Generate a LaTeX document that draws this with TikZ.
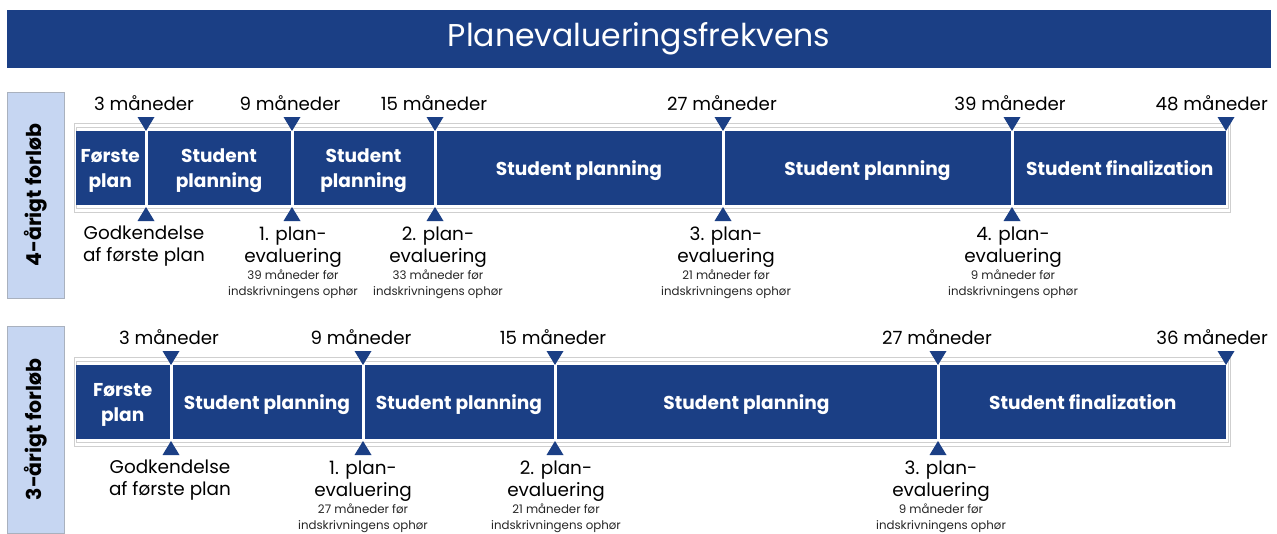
\documentclass[tikz,border=0pt]{standalone}
\usepackage{fontspec}
\setmainfont{Poppins}
\definecolor{navy}{HTML}{1B3F85}
\definecolor{sideblue}{HTML}{C6D6F2}
\definecolor{sideedge}{HTML}{A9B1BE}
\definecolor{framegray}{HTML}{CFCFCF}
\newcommand\downtri[2]{\fill[navy] (#1,#2) -- ++(-8.5,-14) -- ++(17,0) -- cycle;}
\newcommand\uptri[2]{\fill[navy] (#1,#2) -- ++(-8.5,14) -- ++(17,0) -- cycle;}
\begin{document}
\begin{tikzpicture}[x=1pt,y=-1pt,
  titlebar/.style={fill=navy,text=white,minimum width=1264pt,minimum height=57.5pt,
    inner sep=0pt,font=\fontsize{31.5}{36}\selectfont},
  sidebox/.style={fill=sideblue,draw=sideedge,line width=0.8pt,minimum width=57.5pt,
    inner sep=0pt,font=\bfseries\fontsize{20.5}{24}\selectfont},
  seg/.style={fill=navy,text=white,align=center,inner sep=0pt,minimum height=74pt,
    text depth=-1.5pt,font=\bfseries\fontsize{18.6}{25}\selectfont},
  month/.style={inner sep=0pt,font=\fontsize{18.2}{22}\selectfont},
  evtext/.style={inner sep=0pt,align=center,font=\fontsize{18.4}{22}\selectfont},
  evnote/.style={inner sep=0pt,align=center,text=black!85,font=\fontsize{11.8}{15.5}\selectfont},
  frameline/.style={draw=framegray,line width=0.7pt}]
\useasboundingbox (0,0) rectangle (1277,533);

% heading
\node[titlebar] (title) at (639,38.8) {Planevalueringsfrekvens};

% row captions
\node[sidebox,minimum height=206pt] (side4) at (35.75,195) {\rotatebox{90}{4-årigt forløb}};
\node[sidebox,minimum height=207pt] (side3) at (35.75,429.5) {\rotatebox{90}{3-årigt forløb}};

% ---------- 4-year track ----------
\draw[frameline] (74,123) rectangle (1230,212);
\draw[frameline] (76,127) rectangle (1228,208);

\node[seg,minimum width=68.5pt] (a1) at (110.25,168) {Første\\plan};
\node[seg,minimum width=143pt]  (a2) at (219,168) {Student\\planning};
\node[seg,minimum width=140pt]  (a3) at (363.5,168) {Student\\planning};
\node[seg,minimum width=285pt]  (a4) at (579,168) {Student planning};
\node[seg,minimum width=286pt]  (a5) at (867.5,168) {Student planning};
\node[seg,minimum width=212.5pt] (a6) at (1119.75,168) {Student finalization};

\foreach \x in {146,292,435,723,1012,1226} {\downtri{\x}{131}}
\foreach \x in {146,292,435,723,1012} {\uptri{\x}{207}}

\node[month] (am1) at (144,103) {3 måneder};
\node[month] (am2) at (290,103) {9 måneder};
\node[month] (am3) at (434,103) {15 måneder};
\node[month] (am4) at (722,103) {27 måneder};
\node[month] (am5) at (1010,103) {39 måneder};
\node[month,anchor=east] (am6) at (1268,103) {48 måneder};

\node[evtext] (ae0) at (144,246) {Godkendelse\\af første plan};
\node[evtext] (ae1) at (293,247.5) {1. plan-\\evaluering};
\node[evnote] (an1) at (293,284.5) {39 måneder før\\indskrivningens ophør};
\node[evtext] (ae2) at (438,247.5) {2. plan-\\evaluering};
\node[evnote] (an2) at (438,284.5) {33 måneder før\\indskrivningens ophør};
\node[evtext] (ae3) at (726,247.5) {3. plan-\\evaluering};
\node[evnote] (an3) at (726,284.5) {21 måneder før\\indskrivningens ophør};
\node[evtext] (ae4) at (1013,247.5) {4. plan-\\evaluering};
\node[evnote] (an4) at (1013,284.5) {9 måneder før\\indskrivningens ophør};

% ---------- 3-year track ----------
\draw[frameline] (74,357) rectangle (1230,446);
\draw[frameline] (76,361) rectangle (1228,442);

\node[seg,minimum width=93.5pt] (b1) at (122.75,402) {Første\\plan};
\node[seg,minimum width=189pt]  (b2) at (267,402) {Student planning};
\node[seg,minimum width=189pt]  (b3) at (459,402) {Student planning};
\node[seg,minimum width=380pt]  (b4) at (746.5,402) {Student planning};
\node[seg,minimum width=286.5pt] (b5) at (1082.75,402) {Student finalization};

\foreach \x in {171,363,555,938,1226} {\downtri{\x}{365}}
\foreach \x in {171,363,555,938} {\uptri{\x}{441}}

\node[month] (bm1) at (169,337) {3 måneder};
\node[month] (bm2) at (361,337) {9 måneder};
\node[month] (bm3) at (553,337) {15 måneder};
\node[month] (bm4) at (937,337) {27 måneder};
\node[month,anchor=east] (bm5) at (1268,337) {36 måneder};

\node[evtext] (be0) at (170,480) {Godkendelse\\af første plan};
\node[evtext] (be1) at (363,481.5) {1. plan-\\evaluering};
\node[evnote] (bn1) at (363,518.5) {27 måneder før\\indskrivningens ophør};
\node[evtext] (be2) at (556,481.5) {2. plan-\\evaluering};
\node[evnote] (bn2) at (556,518.5) {21 måneder før\\indskrivningens ophør};
\node[evtext] (be3) at (941,481.5) {3. plan-\\evaluering};
\node[evnote] (bn3) at (941,518.5) {9 måneder før\\indskrivningens ophør};
\end{tikzpicture}
\end{document}
